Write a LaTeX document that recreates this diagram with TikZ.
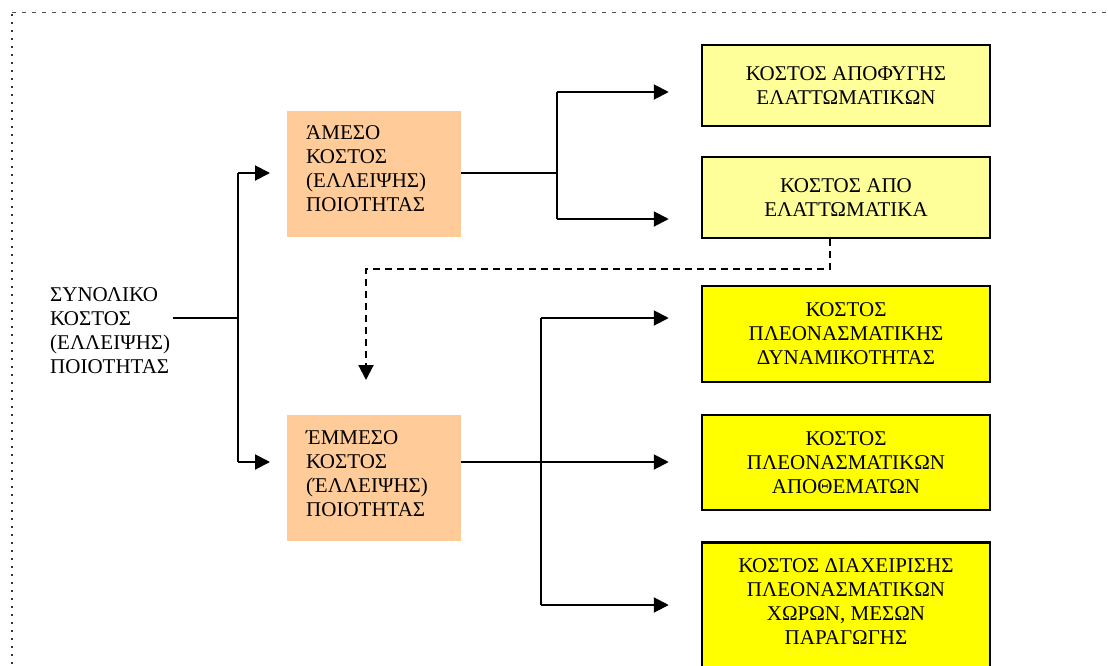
\documentclass[tikz,border=0pt]{standalone}
\usepackage{fontspec}
\setmainfont{Liberation Serif}
\usetikzlibrary{arrows.meta}
\definecolor{peach}{HTML}{FFCC99}
\definecolor{paleyellow}{HTML}{FFFF99}
\definecolor{brightyellow}{HTML}{FFFF00}
\begin{document}
\begin{tikzpicture}[x=1pt,y=-1pt,
  txt/.style={font=\fontsize{21}{24}\selectfont, inner sep=0pt},
  costbox/.style={draw=black, line width=2.5pt, minimum width=288pt, inner sep=0pt, align=center, txt},
  mainbox/.style={fill=peach, draw=none, minimum width=174pt, minimum height=126pt, anchor=north west, inner sep=0pt},
  wire/.style={line width=2pt},
  arr/.style={line width=2pt, -{Triangle[length=15pt,width=15pt]}},
  darr/.style={line width=2pt, dash pattern=on 7pt off 5pt, -{Triangle[length=15pt,width=15pt]}}
]
\clip (0,0) rectangle (1108,665);
\fill[white] (0,0) rectangle (1108,665);

% frame
\draw[gray!60!black, line width=1pt, dash pattern=on 4pt off 6pt] (12,12) -- (1108,12);
\draw[black!80, line width=1.5pt, dash pattern=on 1.5pt off 6.5pt] (12,14) -- (12,665);

% total cost label
\node[txt, align=left, anchor=west] (sum) at (50,331)
  {ΣΥΝΟΛΙΚΟ\\ΚΟΣΤΟΣ\\(ΕΛΛΕΙΨΗΣ)\\ΠΟΙΟΤΗΤΑΣ};

% direct / indirect cost boxes
\node[mainbox] (ab) at (287,111) {};
\node[txt, align=left, anchor=west] (at) at (306,169)
  {ΆΜΕΣΟ\\ΚΟΣΤΟΣ\\(ΕΛΛΕΙΨΗΣ)\\ΠΟΙΟΤΗΤΑΣ};
\node[mainbox] (eb) at (287,415) {};
\node[txt, align=left, anchor=west] (et) at (306,474)
  {ΈΜΜΕΣΟ\\ΚΟΣΤΟΣ\\(ΈΛΛΕΙΨΗΣ)\\ΠΟΙΟΤΗΤΑΣ};

% cost categories
\node[costbox, fill=paleyellow, minimum height=81pt] (y1) at (846,85.5)
  {ΚΟΣΤΟΣ ΑΠΟΦΥΓΗΣ\\ΕΛΑΤΤΩΜΑΤΙΚΩΝ};
\node[costbox, fill=paleyellow, minimum height=81pt] (y2) at (846,197.5)
  {ΚΟΣΤΟΣ ΑΠΟ\\ΕΛΑΤΤΩΜΑΤΙΚΑ};
\node[costbox, fill=brightyellow, minimum height=96pt] (y3) at (846,334)
  {ΚΟΣΤΟΣ\\ΠΛΕΟΝΑΣΜΑΤΙΚΗΣ\\ΔΥΝΑΜΙΚΟΤΗΤΑΣ};
\node[costbox, fill=brightyellow, minimum height=95pt] (y4) at (846,462.5)
  {ΚΟΣΤΟΣ\\ΠΛΕΟΝΑΣΜΑΤΙΚΩΝ\\ΑΠΟΘΕΜΑΤΩΝ};
\node[costbox, fill=brightyellow, minimum height=150pt, anchor=north] (y5) at (846,541) {};
\node[txt, align=center] (t5) at (846,602)
  {ΚΟΣΤΟΣ ΔΙΑΧΕΙΡΙΣΗΣ\\ΠΛΕΟΝΑΣΜΑΤΙΚΩΝ\\ΧΩΡΩΝ, ΜΕΣΩΝ\\ΠΑΡΑΓΩΓΗΣ};

% branch points
\coordinate (j0) at (238,318);
\coordinate (j1) at (238,173);
\coordinate (j2) at (238,462);
\coordinate (ka) at (557,173);
\coordinate (ka1) at (557,92);
\coordinate (ka2) at (557,219);
\coordinate (ke) at (541,462);
\coordinate (ke1) at (541,318);
\coordinate (ke3) at (541,605);
\coordinate (d1) at (830,269);
\coordinate (d2) at (366,269);
\coordinate (d3) at (366,380);

% total -> direct / indirect
\draw[wire] ([xshift=3pt]sum.east |- j0) -- (j0);
\draw[wire] (j1) -- (j2);
\draw[arr] (j1) -- ([xshift=-17pt]ab.west |- j1);
\draw[arr] (j2) -- ([xshift=-17pt]eb.west |- j2);

% direct -> categories
\draw[wire] (ab.east |- ka) -- (ka);
\draw[wire] (ka1) -- (ka2);
\draw[arr] (ka1) -- ([xshift=-32pt]y1.west |- ka1);
\draw[arr] (ka2) -- ([xshift=-32pt]y2.west |- ka2);

% indirect -> categories
\draw[wire] (ke1) -- (ke3);
\draw[arr] (eb.east |- ke) -- ([xshift=-32pt]y4.west |- ke);
\draw[arr] (ke1) -- ([xshift=-32pt]y3.west |- ke1);
\draw[arr] (ke3) -- ([xshift=-32pt]y5.west |- ke3);

% defects feed back into the indirect cost
\draw[darr] (y2.south -| d1) -- (d1) -- (d2) -- (d3);
\end{tikzpicture}
\end{document}
